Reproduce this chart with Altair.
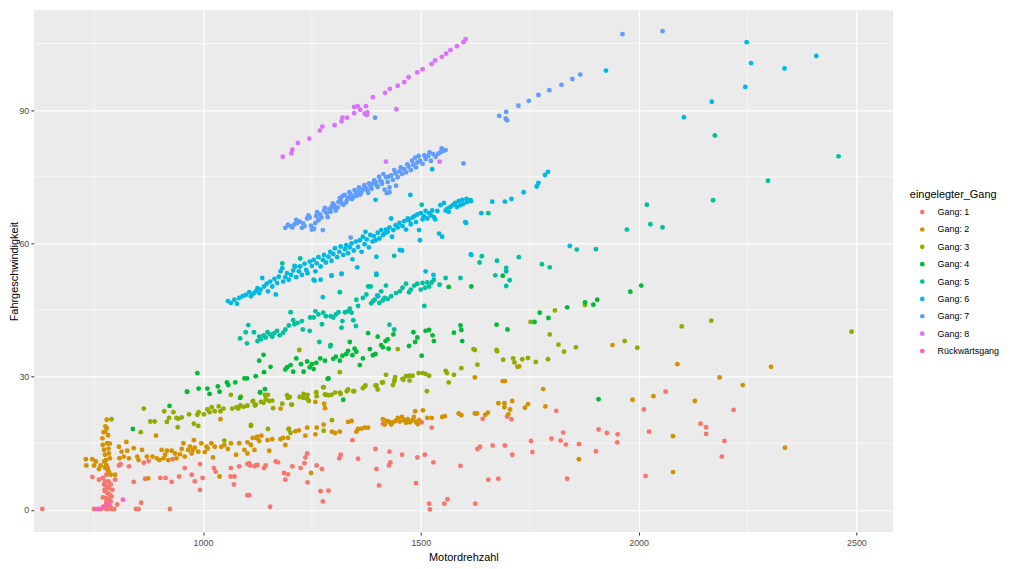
import altair as alt
import pandas as pd

gears = ["Gang: 1", "Gang: 2", "Gang: 3", "Gang: 4", "Gang: 5",
         "Gang: 6", "Gang: 7", "Gang: 8", "Rückwärtsgang"]
colors = ["#F8766D", "#D39200", "#93AA00", "#00BA38", "#00C19F",
          "#00B9E3", "#619CFF", "#DB72FB", "#FF61C3"]

x_ticks = [1000, 1500, 2000, 2500]
y_ticks = [0, 30, 60, 90]
minor_x = [750, 1250, 1750, 2250]
minor_y = [15, 45, 75, 105]

g1 = [(631,0.2),(746,7.4),(750,0.2),(761,6.8),(765,0.2),(770,7.2),(773,5.7),(775,4.2),(777,2.7),(778,1.2),
      (780,0.2),(783,6.4),(784,4.9),(786,3.4),(788,1.9),(790,0.2),(778,7.9),(783,8.6),(781,9.5),(773,0.8),
      (784,0.5),(796,0.2),(798,6.8),(803,1.2),(807,10.0),(811,10.3),(830,9.8),(841,6.3),(846,0.2),(852,0.2),
      (858,1.6),(864,10.6),(867,7.0),(875,11.0),(902,7.2),(914,7.2),(924,0.2),(928,6.3),(930,11.4),(945,7.5),
      (958,9.4),(974,7.9),(981,6.4),(993,10.3),(993,4.5),(999,7.2),(1025,9.4),(1029,8.6),(1064,9.4),(1063,7.5),
      (1071,5.7),(1072,7.5),(1083,9.8),(1106,3.3),(1106,10.5),(1118,9.8),(1125,10.1),(775,6.4),(779,5.3),(781,3.8),
      (784,2.3),(778,1.8),(787,0.8),(775,0.3),(788,5.7),(792,4.5),(790,3.0),(774,4.5),(770,2.8),
      (1102,10.3),(1102,3.3),(1108,10.0),(1121,10.0),(1140,9.4),(1144,10.0),(1154,0.7),(1167,10.9),(1172,10.7),
      (1186,8.3),(1189,6.8),(1195,8.0),(1205,9.8),(1224,9.4),(1233,10.5),(1235,11.8),(1239,12.7),(1240,6.2),
      (1261,10.0),(1270,4.2),(1273,9.2),(1275,1.9),(1288,4.3),(1313,11.6),(1316,12.4),(1343,15.7),(1356,11.5),
      (1396,13.7),(1398,9.2),(1404,5.5),(1413,19.4),(1427,10.0),(1428,13.1),(1430,10.7),(1457,12.4),(1489,6.0),
      (1492,11.8),(1502,19.7),(1509,12.4),(1519,1.4),(1521,0.1),(1525,18.5),(1529,10.7),(1554,1.4),(1561,2.4),
      (1591,9.9),(1625,1.4),(1630,13.7),(1636,14.2),(1642,20.5),(1655,6.8),(1665,14.5),(1678,7.0),(1693,14.5),
      (1698,21.0),(1708,20.4),(1710,12.4),(1753,15.5),(1756,13.0),(1800,16.0),(1811,22.3),(1821,15.6),(1827,17.4),
      (1833,14.7),(1836,7.0),(1863,14.8),(1902,13.2),(1908,18.1),(1927,17.3),(1951,15.2),(1952,17.0),(2012,22.6),
      (2016,7.6),(2024,17.6),(2062,26.6),(2142,19.4),(2155,18.6),(2155,17.1),(2191,12.0),(2197,15.5),(2218,22.5)]

g2 = [(731,11.4),(732,10.0),(746,11.4),(750,10.0),(754,10.9),(761,9.2),(765,10.0),(769,16.1),(770,14.6),(773,13.5),
      (775,12.4),(777,11.2),(778,10.1),(780,15.0),(783,13.8),(784,12.7),(786,11.6),(773,10.9),(775,9.5),(781,9.0),
      (784,8.5),(788,7.9),(798,7.9),(807,14.2),(808,11.6),(813,13.1),(818,12.0),(824,15.3),(826,13.3),(830,11.6),
      (841,13.9),(849,12.0),(852,11.2),(860,13.5),(871,12.0),(874,7.1),(884,12.0),(894,11.6),(892,16.7),(900,11.2),
      (905,13.5),(909,11.6),(913,12.4),(917,13.3),(920,11.2),(928,13.3),(936,12.7),(939,11.6),(947,12.5),(951,13.7),
      (955,15.0),(958,12.0),(966,13.5),(970,14.2),(974,12.7),(977,13.5),(979,15.7),(981,14.0),(989,13.1),(996,15.0),
      (1004,13.0),(1008,14.2),(1011,13.8),(1019,15.0),(1023,11.8),(1027,14.2),(1038,7.5),(1040,20.4),(1042,14.2),
      (1049,14.6),(1057,13.7),(1064,15.0),(1076,12.4),(1083,15.0),(1095,13.5),(1102,12.7),(1110,14.6),(1118,13.5),
      (1124,16.1),(772,17.5),(776,18.8),(779,20.3),(782,16.8),(786,14.9),(776,17.6),(779,18.4),
      (1102,15.2),(1114,16.2),(1124,16.5),(1129,15.5),(1134,16.7),(1148,15.7),(1159,15.9),(1152,13.3),(1178,15.9),
      (1184,16.2),(1189,14.6),(1195,16.2),(1197,18.3),(1212,17.7),(1220,17.9),(1235,16.7),(1239,18.5),(1248,8.3),
      (1258,17.0),(1261,18.5),(1278,23.9),(1280,22.9),(1277,19.2),(1296,17.6),(1303,17.3),(1314,17.6),(1333,19.8),
      (1341,20.0),(1352,17.6),(1356,18.2),(1364,18.3),(1371,18.5),(1379,18.5),(1413,20.4),(1417,19.2),(1422,20.0),
      (1428,19.8),(1436,19.7),(1442,20.0),(1447,20.7),(1462,20.2),(1470,20.4),(1475,19.7),(1481,20.2),(1489,19.8),
      (1496,20.2),(1487,22.2),(1505,22.4),(1515,20.7),(1525,20.7),(1549,20.9),(1555,21.1),(1587,21.7),(1593,21.3),
      (1624,21.7),(1178,22.8),(1258,24.3),(1432,19.2),(1452,19.9),(1457,20.9),(1466,19.6),(1484,20.9),(1493,19.3),
      (1629,21.7),(1648,21.4),(1654,21.9),(1678,24.0),(1624,29.8),(1688,29.0),(1693,29.0),(1692,24.0),(1692,23.1),
      (1701,21.5),(1705,22.6),(1710,24.5),(1726,32.3),(1739,23.0),(1746,23.8),(1781,27.2),(1786,23.3),(1863,11.4),
      (1940,37.1),(1986,24.8),(2034,25.6),(2079,16.6),(2079,8.5),(2089,32.8),(2129,24.5),(2186,29.8),(2239,28.1),
      (2304,32.2),(2336,14.0)]

g3 = [(790,20.4),(864,22.8),(857,17.5),(879,19.9),(889,19.9),(911,22.2),(917,19.8),(922,20.7),(932,22.0),(939,20.7),
      (943,20.5),(951,20.8),(942,18.6),(964,26.6),(968,21.5),(979,19.4),(987,21.4),(989,18.9),(990,22.0),(1002,21.5),
      (1010,22.6),(1015,22.0),(1020,23.1),(1027,22.2),(1036,23.3),(1040,22.2),(1047,22.8),(1064,25.9),(1067,22.8),
      (1077,23.1),(1081,22.8),(1086,23.5),(1093,23.2),(1101,23.4),(1110,18.9),(1115,24.5),(1121,23.7),(1049,15.6),
      (1102,23.5),(1114,24.4),(1119,23.5),(1133,24.3),(1144,24.9),(1152,24.5),(1159,24.6),(1161,22.9),(1182,23.9),
      (1195,25.2),(1199,25.4),(1203,23.7),(1222,25.4),(1231,26.1),(1239,25.0),(1243,24.5),(1260,26.5),(1261,25.6),
      (1277,27.6),(1280,26.0),(1288,25.8),(1303,26.4),(1314,26.4),(1330,26.7),(1333,27.1),(1347,26.7),(1367,27.4),
      (1371,27.8),(1398,28.0),(1411,28.7),(1436,28.1),(1440,29.3),(1460,29.3),(1474,29.1),(1514,26.7),(1564,28.7),
      (1110,19.1),(1149,18.2),(1197,18.1),(1201,17.3),(1277,17.8),(1296,20.2),
      (1087,25.5),(1142,25.9),(1149,25.9),(1139,24.1),(1193,25.8),(1204,23.7),(1231,25.2),(1240,25.9),(1276,27.6),
      (1282,25.9),(1295,25.9),(1316,26.1),(1345,26.7),(1373,28.0),(1396,28.0),(1401,27.1),(1413,28.7),(1420,30.4),
      (1439,28.9),(1441,29.9),(1447,36.2),(1458,29.5),(1466,30.1),(1473,30.2),(1481,30.2),(1495,30.8),(1504,30.8),
      (1511,30.6),(1519,30.2),(1557,31.3),(1560,30.8),(1576,30.4),(1593,31.9),(1621,36.2),(1221,36.0),(1314,31.0),
      (1624,36.0),(1630,32.7),(1674,36.0),(1675,35.7),(1689,33.8),(1712,34.1),(1715,33.2),(1722,32.2),(1733,33.9),
      (1746,34.2),(1764,33.3),(1792,33.9),(1796,39.5),(1816,37.2),(1829,35.6),(1856,36.6),(1968,38.0),(1997,36.5),
      (2489,40.1),(1877,46.1),(1808,44.9),(1752,42.3),(2099,41.3),(2167,42.6)]

g4 = [(839,18.2),(923,23.4),(963,26.6),(987,30.8),(990,27.3),(1010,27.3),(1015,26.1),(1034,27.8),(1038,26.6),
      (1055,28.7),(1058,28.1),(1074,28.7),(1085,25.2),(1095,29.6),(1101,29.6),(1121,30.1),(1131,26.5),(1139,34.9),
      (1140,31.0),(1142,27.2),(1155,32.2),(1129,33.6),(1189,31.6),(1193,32.1),(1201,32.6),(1207,31.1),(1214,34.1),
      (1225,32.8),(1231,31.1),(1239,33.4),(1245,32.1),(1250,32.8),(1254,31.7),(1260,33.1),(1269,34.1),(1280,33.6),
      (1288,29.6),(1293,37.1),(1299,34.0),(1305,34.5),(1314,33.6),(1320,34.7),(1329,35.1),(1333,35.8),(1337,37.8),
      (1343,34.8),(1348,36.3),(1352,35.6),(1360,32.6),(1367,34.1),(1379,39.8),(1383,36.2),(1390,34.8),(1396,35.1),
      (1401,39.0),(1409,37.1),(1413,36.6),(1419,38.0),(1424,38.4),(1426,36.3),(1437,39.5),(1473,36.9),(1483,40.0),
      (1487,37.8),(1492,38.8),(1502,34.7),(1511,40.3),(1519,40.5),(1527,39.3),(1530,38.0),(1564,50.2),(1576,39.9),
      (1591,41.5),(1593,40.5),(1595,38.0),(1616,50.3),(1322,24.8),(1131,26.4),(1286,29.5),(1908,24.9),(1699,40.6),
      (1688,52.7),(2006,50.5),(1981,49.1),(1905,47.3),(1877,46.7),(1896,46.2),(1836,45.6),(1773,44.4),(1761,42.3),
      (1793,43.2),(1674,41.7)]

g5 = [(1085,38.6),(1098,40.0),(1101,37.5),(1104,41.6),(1117,40.0),(1125,38.0),(1129,39.0),(1133,38.4),(1139,39.3),
      (1144,38.8),(1148,40.0),(1154,39.5),(1159,39.0),(1164,39.8),(1170,40.3),(1176,39.3),(1184,39.9),(1189,40.6),
      (1197,41.5),(1201,44.5),(1207,42.7),(1210,41.8),(1217,42.1),(1227,42.5),(1229,40.6),(1245,40.3),(1246,43.3),
      (1254,43.3),(1258,44.7),(1265,44.0),(1267,37.8),(1273,41.8),(1276,44.4),(1282,43.6),(1292,36.8),(1293,43.6),
      (1299,43.3),(1305,44.0),(1311,44.5),(1314,49.0),(1318,41.0),(1320,42.5),(1326,44.5),(1333,44.7),(1337,45.3),
      (1341,44.4),(1345,42.7),(1351,41.4),(1352,47.3),(1356,45.9),(1367,47.7),(1375,48.5),(1379,50.3),(1386,46.5),
      (1390,47.0),(1394,47.3),(1402,48.1),(1405,46.6),(1409,49.2),(1413,47.2),(1417,47.7),(1420,50.5),(1424,47.5),
      (1428,41.7),(1432,48.1),(1439,40.6),(1443,48.8),(1452,49.2),(1458,50.0),(1466,50.9),(1473,49.0),(1477,49.6),
      (1485,50.5),(1492,50.9),(1500,49.6),(1504,51.1),(1508,45.9),(1510,50.0),(1515,51.2),(1519,50.3),(1525,51.2),
      (1530,51.8),(1543,50.7),(1557,52.2),(1591,52.2),(1223,56.6),(1182,55.5),(1254,51.8),(1295,52.7),(1439,57.2),
      (1502,68.7),(1385,50.3),(1398,52.9),(1212,54.8),
      (1655,66.8),(2019,68.7),(2171,69.7),(2297,74.1),(2459,79.6),(1973,63.1),(2027,64.3),(2055,63.6),(1858,58.6),
      (1902,58.7),(1640,57.1),(1635,55.7),(1675,56.1),(1725,56.9),(1778,55.3),(1796,54.6),(1696,54.5),(1696,53.7),
      (1671,52.8),(1704,51.7),(1696,50.4),(2175,84.3)]

g6 = [(1057,47.0),(1064,46.6),(1072,47.3),(1078,46.4),(1083,47.7),(1091,48.1),(1098,48.4),(1106,49.0),(1110,48.1),
      (1116,48.7),(1121,49.2),(1125,49.9),(1129,48.8),(1132,49.6),(1136,52.2),(1140,50.3),(1146,50.9),(1149,49.2),
      (1154,51.4),(1159,50.3),(1164,52.0),(1167,48.5),(1170,51.1),(1174,52.5),(1178,53.7),(1182,54.4),(1184,51.4),
      (1189,52.4),(1193,53.3),(1197,51.8),(1202,52.9),(1207,53.9),(1210,54.9),(1214,52.4),(1220,53.7),(1223,54.8),
      (1227,52.9),(1233,55.4),(1237,54.0),(1240,53.3),(1245,55.9),(1250,54.9),(1254,56.3),(1258,53.7),(1261,55.5),
      (1265,56.9),(1270,54.8),(1275,56.3),(1278,57.4),(1282,55.7),(1288,57.0),(1292,58.1),(1295,56.1),(1299,57.6),
      (1303,58.9),(1308,56.9),(1313,58.1),(1316,59.3),(1318,53.1),(1322,57.4),(1326,58.7),(1329,59.6),(1333,57.8),
      (1337,59.1),(1341,60.0),(1343,56.4),(1346,58.4),(1351,60.4),(1354,54.6),(1356,59.2),(1360,60.7),(1364,58.1),
      (1367,61.5),(1371,59.8),(1373,62.6),(1376,60.9),(1381,59.1),(1384,61.9),(1389,60.4),(1392,61.6),(1396,60.7),
      (1398,57.0),(1401,62.4),(1405,61.1),(1409,63.0),(1413,61.9),(1417,62.2),(1420,63.1),(1424,62.6),(1428,63.6),
      (1432,65.6),(1434,61.5),(1437,63.0),(1442,64.1),(1447,63.6),(1451,64.6),(1452,58.5),(1457,58.4),(1458,63.9),
      (1462,65.0),(1466,63.1),(1470,65.6),(1473,65.2),(1477,64.3),(1481,65.8),(1485,66.1),(1489,64.8),(1492,66.5),
      (1496,63.0),(1498,60.7),(1500,66.8),(1504,65.4),(1507,66.1),(1511,67.3),(1515,65.6),(1519,66.8),(1523,66.3),
      (1526,67.4),(1530,65.9),(1533,65.4),(1538,67.3),(1542,62.2),(1545,68.6),(1549,61.5),(1553,69.1),(1557,67.4),
      (1561,67.8),(1564,67.1),(1568,68.2),(1573,68.6),(1579,69.1),(1583,68.2),(1587,69.5),(1591,68.6),(1595,69.8),
      (1598,68.9),(1602,64.8),(1606,69.3),(1614,69.7),(1616,57.4),(1396,69.8),(1476,70.9),(1526,76.7),(1275,47.9),
      (1400,48.3),(1318,53.2),(1295,52.8),(1270,51.8),(1256,51.6),(1398,53.2),(1529,52.9),(1511,53.7),
      (1792,76.1),(1785,75.4),(1770,73.6),(1766,72.8),(1736,71.5),(1708,70.0),(1693,69.4),(1664,69.4),(1615,69.5),
      (1605,70.0),(1639,66.8),(1604,64.6),(1842,59.4),(1615,57.5),
      (1925,98.9),(2104,88.4),(2168,91.9),(2245,95.2),(2248,105.3),(2258,100.6),(2335,99.4),(2408,102.2)]

g7 = [(1189,63.5),(1201,63.9),(1210,64.3),(1216,64.6),(1222,64.9),(1227,63.5),(1233,63.9),(1239,65.6),(1245,65.8),
      (1250,63.1),(1255,63.3),(1260,66.1),(1265,65.2),(1269,66.5),(1275,63.0),(1278,67.4),(1284,66.8),(1290,67.7),
      (1295,68.2),(1301,68.6),(1305,67.4),(1311,69.3),(1316,69.8),(1320,70.6),(1322,68.7),(1328,69.2),(1333,70.3),
      (1339,71.0),(1345,70.4),(1351,71.2),(1356,71.7),(1361,71.0),(1367,72.1),(1373,72.5),(1379,71.4),(1384,73.0),
      (1390,73.4),(1396,73.8),(1401,72.7),(1407,74.1),(1411,73.4),(1417,72.1),(1420,74.9),(1424,73.8),(1428,71.5),
      (1432,75.3),(1436,74.3),(1442,75.8),(1447,74.9),(1451,76.2),(1457,75.6),(1462,76.7),(1466,76.0),(1472,77.3),
      (1477,76.5),(1483,77.7),(1487,79.3),(1489,77.1),(1492,78.2),(1498,78.6),(1504,77.9),(1511,79.0),(1517,79.7),
      (1523,78.6),(1528,80.1),(1534,79.5),(1540,80.2),(1545,80.5),(1551,80.8),(1557,81.0),(1428,72.6),(1443,73.0),
      (1422,71.3),(1339,61.3),(1195,64.2),(1205,63.6),(1214,65.3),(1230,64.5),(1242,66.3),(1248,64.0),(1258,64.6),
      (1262,67.0),(1272,65.8),(1280,68.0),(1286,65.9),(1293,67.1),(1298,69.0),(1303,67.9),(1309,68.1),(1314,70.2),
      (1318,69.0),(1325,70.9),(1331,69.8),(1336,71.5),(1342,70.0),(1348,72.0),(1353,70.7),(1358,72.6),(1364,71.6),
      (1370,73.1),(1376,72.1),(1381,73.5),(1387,72.3),(1393,74.2),(1399,73.1),(1404,75.0),(1410,73.9),(1414,75.6),
      (1426,75.0),(1439,76.5),(1454,77.1),(1469,77.8),(1480,78.6),(1495,79.7),(1508,79.8),(1520,80.5),(1548,81.4),
      (1598,78.0),(1395,88.3),
      (1680,88.7),(1696,89.6),(1695,88.1),(1698,87.7),(1724,91.0),(1748,92.1),(1770,93.4),(1795,94.5),(1823,95.7),
      (1848,97.0),(1866,98.0),(1963,107.1),(2055,107.8)]

g8 = [(1183,79.5),(1203,80.3),(1205,81.1),(1218,82.6),(1244,83.6),(1268,85.4),(1274,86.3),(1302,86.6),(1318,87.5),
      (1320,88.3),(1331,88.3),(1347,89.3),(1347,90.7),(1355,90.9),(1361,90.1),(1371,89.2),(1374,90.9),(1376,88.9),
      (1377,89.5),(1390,92.9),(1418,93.9),(1429,94.8),(1444,90.2),(1447,95.5),(1462,96.3),(1472,97.4),(1492,98.5),
      (1504,99.2),(1525,100.4),(1533,101.2),(1548,102.0),(1558,102.7),(1568,103.5),(1583,104.4),(1598,105.3),
      (1603,106.0),(1420,78.4),(1543,78.4)]

rw = [(816,2.3),(758,0.2),(783,1.3),(770,0.6)]

series = [g1, g2, g3, g4, g5, g6, g7, g8, rw]
rows = []
for name, pts in zip(gears, series):
    for xv, yv in pts:
        rows.append({"Motordrehzahl": xv, "Fahrgeschwindigkeit": yv, "eingelegter_Gang": name})
df = pd.DataFrame(rows)

x_scale = alt.Scale(domain=[611.5, 2584], nice=False, zero=False)
y_scale = alt.Scale(domain=[-5.0, 112.5], nice=False, zero=False)

minor_v = alt.Chart(pd.DataFrame({"Motordrehzahl": minor_x})).mark_rule(
    color="white", strokeWidth=0.6
).encode(x=alt.X("Motordrehzahl:Q", scale=x_scale, title="Motordrehzahl"))

minor_h = alt.Chart(pd.DataFrame({"Fahrgeschwindigkeit": minor_y})).mark_rule(
    color="white", strokeWidth=0.6
).encode(y=alt.Y("Fahrgeschwindigkeit:Q", scale=y_scale, title="Fahrgeschwindigkeit"))

points = alt.Chart(df).mark_circle(size=24, opacity=1).encode(
    x=alt.X("Motordrehzahl:Q", scale=x_scale, title="Motordrehzahl",
            axis=alt.Axis(values=x_ticks, format="d", labelPadding=4, titlePadding=4)),
    y=alt.Y("Fahrgeschwindigkeit:Q", scale=y_scale, title="Fahrgeschwindigkeit",
            axis=alt.Axis(values=y_ticks, format="d", titleX=-25, titleY=263,
                          titleBaseline="top", titleAlign="center", titleAngle=270)),
    color=alt.Color("eingelegter_Gang:N",
                    scale=alt.Scale(domain=gears, range=colors),
                    legend=alt.Legend(title="eingelegter_Gang", orient="none",
                                      legendX=883, legendY=180,
                                      symbolType="circle", symbolSize=22,
                                      symbolOffset=8, labelOffset=11,
                                      rowPadding=7.5, titlePadding=8,
                                      padding=0)),
)

chart = alt.layer(minor_v, minor_h, points).properties(
    width=866, height=526,
    autosize=alt.AutoSizeParams(type="none"),
    padding={"left": 26, "top": 0, "right": 124, "bottom": 35},
    background="white",
).configure_view(
    fill="#EBEBEB", stroke=None
).configure_axis(
    domain=False, grid=True, gridColor="white", gridWidth=1.2,
    tickColor="#333333", tickSize=3, tickWidth=1,
    labelColor="#4D4D4D", labelFontSize=9, labelPadding=2, labelFont="Liberation Sans",
    titleColor="black", titleFontSize=11, titleFontWeight="normal", titleFont="Liberation Sans",
    titlePadding=3,
).configure_legend(
    titleFontSize=11, titleFontWeight="normal", titleFont="Liberation Sans", titleColor="black",
    labelFontSize=9, labelFont="Liberation Sans", labelColor="black",
)

chart.save("out.html", embed_options={"renderer": "svg", "actions": False})
